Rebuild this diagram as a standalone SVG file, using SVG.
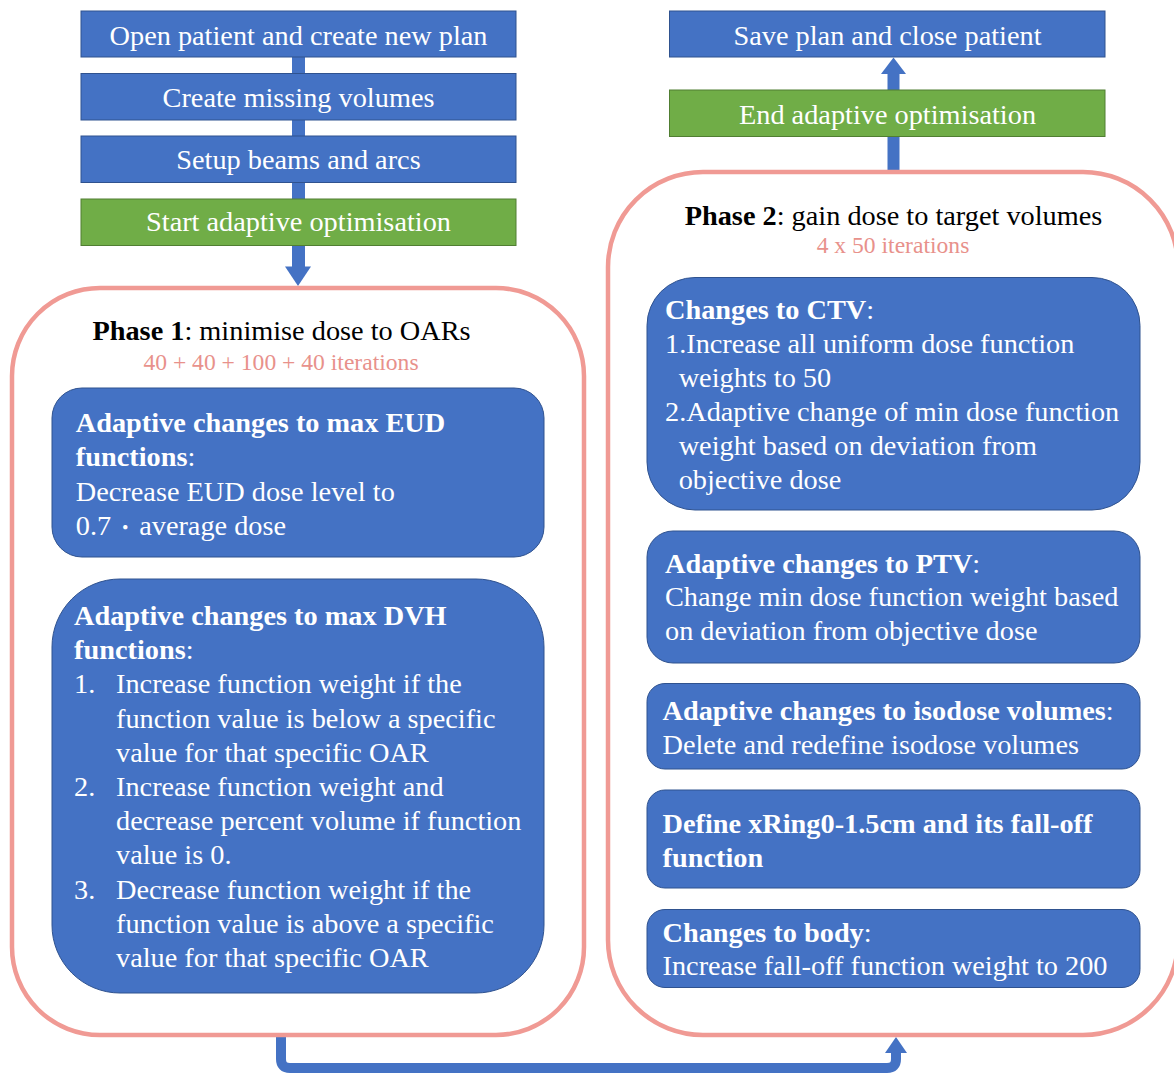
<svg xmlns="http://www.w3.org/2000/svg" width="1174" height="1073" viewBox="0 0 1174 1073">
<style>
.blue{fill:#4472C4;stroke:#2F528F;stroke-width:1}
.green{fill:#70AD47;stroke:#507E32;stroke-width:1}
.phase{fill:#fff;stroke:#F09A94;stroke-width:4.5}
.t{font-family:"Liberation Serif","Times New Roman",serif;font-size:28.3px;fill:#fff}
.c{text-anchor:middle}
.b{font-weight:bold}
.k{fill:#000}
.iter{font-family:"Liberation Serif","Times New Roman",serif;font-size:23.6px;fill:#E8918B;text-anchor:middle}
.arr{fill:#4472C4}
</style>
<rect width="1174" height="1073" fill="#fff"/>
<g id="connectors">
  <rect class="arr" x="292" y="57" width="13" height="142"/>
  <rect class="arr" x="292" y="245" width="13" height="22"/>
  <polygon class="arr" points="285,266.5 311,266.5 298,286"/>
  <rect class="arr" x="887.5" y="73" width="12" height="18"/>
  <polygon class="arr" points="881,74 906,74 893.5,57.5"/>
  <rect class="arr" x="887.5" y="136" width="12" height="38"/>
  <path d="M281 1030 V1059 Q281 1068 290 1068 H887 Q896 1068 896 1059 V1050" fill="none" stroke="#4472C4" stroke-width="10"/>
  <polygon class="arr" points="885,1053 907,1053 896,1037"/>
</g>
<g id="open">
  <rect class="blue" x="81" y="11" width="435" height="46"/>
  <text class="t c" x="298.5" y="45">Open patient and create new plan</text>
</g>
<g id="missing">
  <rect class="blue" x="81" y="73.5" width="435" height="46.5"/>
  <text class="t c" x="298.5" y="106.5">Create missing volumes</text>
</g>
<g id="setup">
  <rect class="blue" x="81" y="136" width="435" height="46.5"/>
  <text class="t c" x="298.5" y="169">Setup beams and arcs</text>
</g>
<g id="start">
  <rect class="green" x="81" y="199" width="435" height="46.5"/>
  <text class="t c" x="298.5" y="231">Start adaptive optimisation</text>
</g>
<g id="save">
  <rect class="blue" x="669.5" y="11" width="435.5" height="46"/>
  <text class="t c" x="887.5" y="45">Save plan and close patient</text>
</g>
<g id="end">
  <rect class="green" x="669.5" y="90" width="435.5" height="46.5"/>
  <text class="t c" x="887.5" y="123.5">End adaptive optimisation</text>
</g>
<g id="phase1">
  <rect class="phase" x="12" y="288" width="572" height="747" rx="88" ry="88"/>
  <text class="t c k" x="281.5" y="340"><tspan class="b">Phase 1</tspan>: minimise dose to OARs</text>
  <text class="iter" x="281" y="370">40 + 40 + 100 + 40 iterations</text>
</g>
<g id="eud">
  <rect class="blue" x="52" y="388" width="492" height="169" rx="30" ry="30"/>
  <text class="t" x="75.8" y="432"><tspan class="b">Adaptive changes to max EUD</tspan></text>
  <text class="t" x="75.8" y="466"><tspan class="b">functions</tspan>:</text>
  <text class="t" x="75.8" y="500.5">Decrease EUD dose level to</text>
  <text class="t" x="75.8" y="535">0.7<tspan dx="4" style="font-size:20px;font-family:'Noto Sans CJK JP',sans-serif">・</tspan><tspan dx="4">average dose</tspan></text>
</g>
<g id="dvh">
  <rect class="blue" x="52" y="579" width="492" height="414" rx="68" ry="68"/>
  <text class="t b" x="74" y="625">Adaptive changes to max DVH</text>
  <text class="t" x="74" y="659.2"><tspan class="b">functions</tspan>:</text>
  <text class="t" x="74" y="693.4">1.</text>
  <text class="t" x="116" y="693.4">Increase function weight if the</text>
  <text class="t" x="116" y="727.6">function value is below a specific</text>
  <text class="t" x="116" y="761.8">value for that specific OAR</text>
  <text class="t" x="74" y="796">2.</text>
  <text class="t" x="116" y="796">Increase function weight and</text>
  <text class="t" x="116" y="830.2">decrease percent volume if function</text>
  <text class="t" x="116" y="864.4">value is 0.</text>
  <text class="t" x="74" y="898.6">3.</text>
  <text class="t" x="116" y="898.6">Decrease function weight if the</text>
  <text class="t" x="116" y="932.8">function value is above a specific</text>
  <text class="t" x="116" y="967">value for that specific OAR</text>
</g>
<g id="phase2">
  <rect class="phase" x="608" y="172" width="570" height="863" rx="95" ry="95"/>
  <text class="t c k" x="893.5" y="225"><tspan class="b">Phase 2</tspan>: gain dose to target volumes</text>
  <text class="iter" x="893" y="253">4 x 50 iterations</text>
</g>
<g id="ctv">
  <rect class="blue" x="647" y="277.5" width="493" height="232.5" rx="48" ry="48"/>
  <text class="t" x="665" y="318.5"><tspan class="b">Changes to CTV</tspan>:</text>
  <text class="t" x="665" y="352.5">1.Increase all uniform dose function</text>
  <text class="t" x="678.7" y="386.5">weights to 50</text>
  <text class="t" x="665" y="420.5">2.Adaptive change of min dose function</text>
  <text class="t" x="678.7" y="454.5">weight based on deviation from</text>
  <text class="t" x="678.7" y="488.5">objective dose</text>
</g>
<g id="ptv">
  <rect class="blue" x="647" y="531" width="493" height="132" rx="26" ry="26"/>
  <text class="t" x="665" y="572.7"><tspan class="b">Adaptive changes to PTV</tspan>:</text>
  <text class="t" x="665" y="606.2">Change min dose function weight based</text>
  <text class="t" x="665" y="640">on deviation from objective dose</text>
</g>
<g id="isodose">
  <rect class="blue" x="647" y="683.5" width="493" height="85.5" rx="18" ry="18"/>
  <text class="t" x="662.5" y="720"><tspan class="b">Adaptive changes to isodose volumes</tspan>:</text>
  <text class="t" x="662.5" y="753.5">Delete and redefine isodose volumes</text>
</g>
<g id="xring">
  <rect class="blue" x="647" y="790" width="493" height="98" rx="18" ry="18"/>
  <text class="t b" x="662.5" y="833.3">Define xRing0-1.5cm and its fall-off</text>
  <text class="t b" x="662.5" y="866.7">function</text>
</g>
<g id="body">
  <rect class="blue" x="647" y="909.5" width="493" height="78" rx="18" ry="18"/>
  <text class="t" x="662.5" y="941.7"><tspan class="b">Changes to body</tspan>:</text>
  <text class="t" x="662.5" y="975">Increase fall-off function weight to 200</text>
</g>
</svg>
